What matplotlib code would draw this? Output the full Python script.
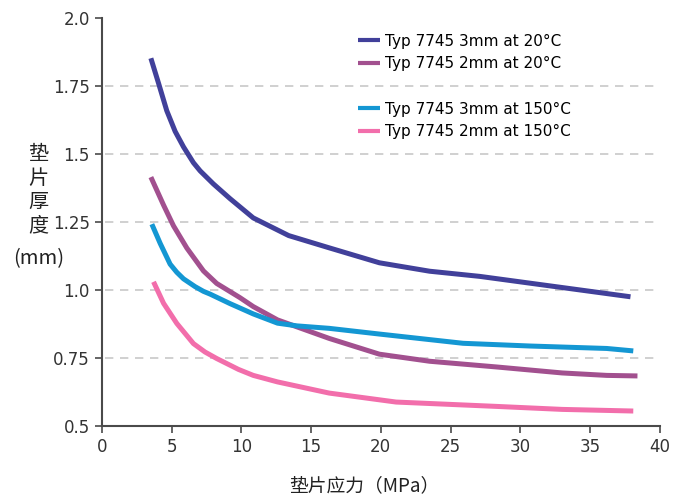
import matplotlib
matplotlib.use("Agg")
import matplotlib.pyplot as plt
from matplotlib.lines import Line2D

plt.rcParams['font.family'] = ['DejaVu Sans', 'Noto Sans CJK SC']

# 数据
x_3mm_20 = [3.52, 4.07, 4.66, 5.26, 5.86, 6.57, 7.05, 8.0, 9.19, 10.86, 13.4, 16.3, 19.9, 23.5, 27.1, 30.7, 34.3, 37.9]
y_3mm_20 = [1.852, 1.76, 1.659, 1.583, 1.526, 1.468, 1.438, 1.39, 1.336, 1.265, 1.20, 1.155, 1.10, 1.069, 1.05, 1.025, 1.0, 0.975]

x_2mm_20 = [3.52, 4.43, 5.14, 6.1, 7.29, 8.24, 9.9, 10.86, 12.6, 16.3, 19.9, 23.5, 28.3, 33.0, 36.2, 38.4]
y_2mm_20 = [1.415, 1.312, 1.236, 1.154, 1.07, 1.024, 0.972, 0.939, 0.89, 0.822, 0.764, 0.738, 0.717, 0.695, 0.686, 0.684]

x_3mm_150 = [3.59, 4.19, 4.9, 5.38, 5.86, 6.7, 7.29, 7.76, 9.19, 10.86, 12.6, 14.0, 16.3, 19.9, 25.9, 30.7, 36.2, 38.1]
y_3mm_150 = [1.242, 1.171, 1.095, 1.065, 1.041, 1.012, 0.995, 0.985, 0.950, 0.912, 0.878, 0.868, 0.859, 0.838, 0.804, 0.794, 0.785, 0.776]

x_2mm_150 = [3.71, 4.43, 5.38, 6.57, 7.4, 8.24, 9.8, 10.86, 12.6, 16.3, 21.1, 28.3, 33.0, 38.1]
y_2mm_150 = [1.03, 0.951, 0.877, 0.803, 0.772, 0.748, 0.708, 0.686, 0.662, 0.621, 0.588, 0.572, 0.561, 0.555]

xticks = [0, 5, 10, 15, 20, 25, 30, 35, 40]
yticks = [0.5, 0.75, 1.0, 1.25, 1.5, 1.75, 2.0]
ytick_labels = ["0.5", "0.75", "1.0", "1.25", "1.5", "1.75", "2.0"]
grid_vals = [0.75, 1.0, 1.25, 1.5, 1.75]

fig = plt.figure(figsize=(6.83, 4.98), dpi=100)
ax = fig.add_axes([0.149, 0.1446, 0.817, 0.8193])

for g in grid_vals:
    ax.axhline(g, xmin=0.006, color='#c8c8c8', lw=1.2, ls=(0, (5, 4)), zorder=1)

lw = 3.6
kw = dict(lw=lw, solid_capstyle='butt', solid_joinstyle='round', zorder=3)
l1, = ax.plot(x_3mm_20, y_3mm_20, color='#41409a', **kw)
l2, = ax.plot(x_2mm_20, y_2mm_20, color='#a2508f', **kw)
l3, = ax.plot(x_3mm_150, y_3mm_150, color='#1497d3', **kw)
l4, = ax.plot(x_2mm_150, y_2mm_150, color='#f26eab', **kw)

blank = Line2D([], [], color='none')
ax.legend([l1, l2, blank, l3, l4],
          ["Typ 7745 3mm at 20°C", "Typ 7745 2mm at 20°C", "",
           "Typ 7745 3mm at 150°C", "Typ 7745 2mm at 150°C"],
          loc='upper left', bbox_to_anchor=(0.44, 0.988), frameon=False,
          fontsize=11, handlelength=1.45, handletextpad=0.3, labelspacing=0.5,
          borderaxespad=0.3)
for h in ax.get_legend().legend_handles:
    h.set_linewidth(3)

ax.set_xlim(0, 40)
ax.set_ylim(0.5, 2.0)
ax.set_xticks(xticks)
ax.set_yticks(yticks)
ax.set_yticklabels(ytick_labels)

for s in ['top', 'right']:
    ax.spines[s].set_visible(False)
for s in ['left', 'bottom']:
    ax.spines[s].set_color('#4a4a4a')
    ax.spines[s].set_linewidth(1.5)
ax.tick_params(direction='out', length=5, width=1.2, color='#4a4a4a',
               labelsize=12, labelcolor='#333333')

ax.set_xlabel("垫片应力（MPa）", fontsize=13.5, color='#222222',
              family=['Noto Sans CJK SC', 'DejaVu Sans'])
ax.xaxis.set_label_coords(0.47, -0.12)

# y轴标题: 竖排汉字 + (mm)
cjk = ['Noto Sans CJK SC', 'DejaVu Sans']
fig.text(0.056, 0.6175, "垫\n片\n厚\n度", ha='center', va='center',
         fontsize=14.5, color='#222222', linespacing=1.17, family=cjk)
fig.text(0.056, 0.481, "(mm)", ha='center', va='center',
         fontsize=14.5, color='#222222', family=cjk)

fig.savefig("out.png", dpi=100)
